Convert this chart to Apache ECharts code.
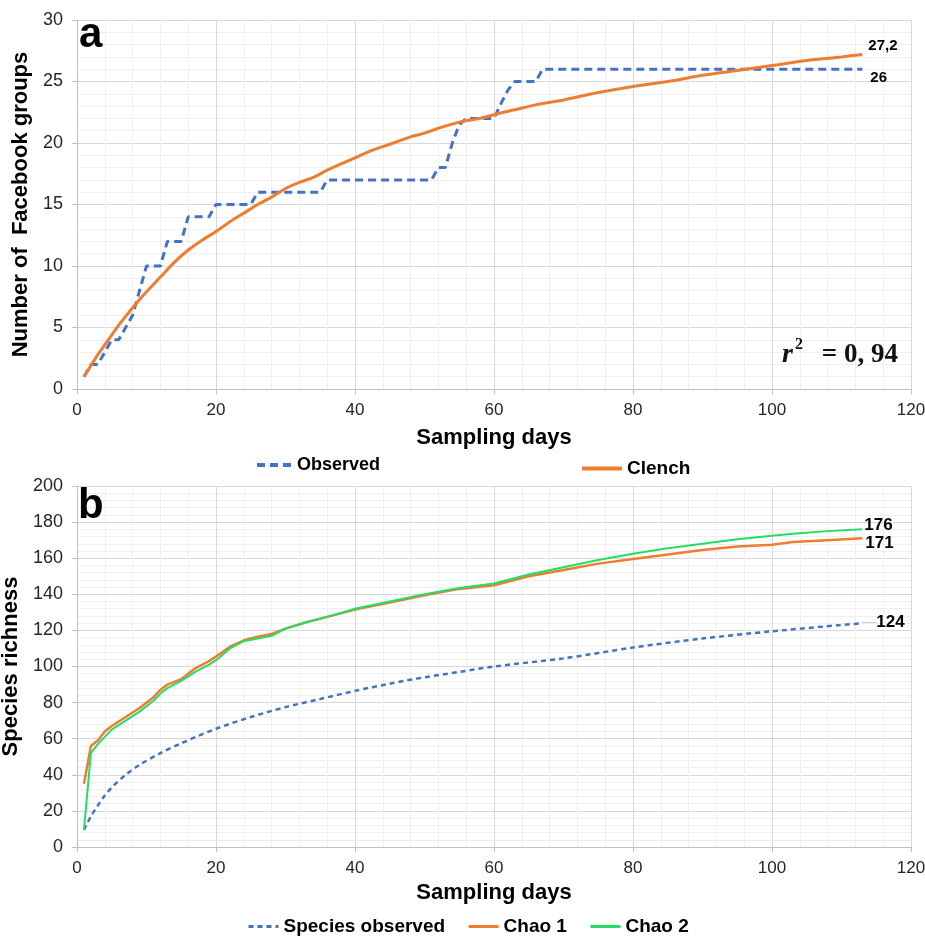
<!DOCTYPE html>
<html>
<head>
<meta charset="utf-8">
<script src="https://cdn.jsdelivr.net/npm/echarts@6/dist/echarts.min.js"></script>
<style>html,body{margin:0;padding:0;background:#fff;}#c{width:925px;height:936px;}</style>
</head>
<body>
<div id="c"></div>
<script>
// ---- Panel a data ----
const obsDays = [1,2,3,4,5,6,7,8,9,10,12,13,15,16,19,20,25,26,35,36,51,52,53,54,55,56,60,61,62,63,66,67,113];
const obsVals = [1,2,2,3,4,4,5,6,8,10,10,12,12,14,14,15,15,16,16,17,17,18,18,20,21.5,22,22,23.2,24.3,25,25,26,26];
const clenchDays = [1,2,3,4,5,6,7,8,10,12,14,16,18,20,22,24,26,28,30,32,34,36,38,40,42,44,46,48,50,52,55,58,60,63,66,70,75,80,85,90,95,100,105,110,113];
const clenchVals = [1,1.9,2.8,3.6,4.4,5.2,5.9,6.6,7.9,9.1,10.3,11.3,12.1,12.8,13.6,14.3,15.0,15.6,16.3,16.8,17.2,17.8,18.3,18.8,19.3,19.7,20.1,20.5,20.8,21.2,21.7,22.0,22.3,22.7,23.1,23.5,24.1,24.6,25.0,25.5,25.9,26.3,26.7,27.0,27.2];

// ---- Panel b data ----
const chaoDays = [1,2,3,4,5,7,9,11,12,13,15,17,19,20,22,24,26,28,30,33,36,40,45,50,55,60,65,70,75,80,85,90,95,100,103,108,113];
const chao1Vals = [35,56,59,64,67,72,77,83,87,90,93,99,103,105.5,111,114.5,116.5,118,121,124.5,127.5,131.5,135.5,139.5,143,145,150,153.5,157,159.5,162,164.5,166.5,167.5,169,170,171];
const chao2Vals = [9.5,52,57,61,65,70,75,81,85,88,92,97,101,103.5,110,114,115.5,117,121,124.5,127.5,132,136,140,143.5,146,151,155,159,162.5,165.5,168,170.5,172.5,173.5,175,176];
const sobsDays = [1,2,3,4,5,7,9,12,15,20,25,30,35,40,45,50,55,60,70,80,90,100,113];
const sobsVals = [9.5,17,23,28.5,33,40,45.5,52,57.5,65.5,72,77.5,82,86.5,90.5,94,97,100,104.5,110.5,115.5,119.5,124];

// axis ranges
const xRange = {min:0, max:120, interval:20};
const yRangeA = {min:0, max:30, interval:5};
const yRangeB = {min:0, max:200, interval:20};

const zip = (a,b) => a.map((d,i)=>[d,b[i]]);
const fmt = v => String(v).replace('.', ',');
const lastOf = a => a[a.length-1];

const FONT = 'Liberation Sans, Arial, sans-serif';
const SERIF = 'Liberation Serif, DejaVu Serif, serif';
const C_BLUE = '#4472C4', C_ORANGE = '#ED7D31', C_GREEN = '#22DD66';

function mkX(i, gap){
  return {type:'value', gridIndex:i, min:xRange.min, max:xRange.max, interval:xRange.interval,
    name:'Sampling days', nameLocation:'middle', nameGap:gap,
    nameTextStyle:{fontSize:22, fontWeight:'bold', color:'#000', fontFamily:FONT},
    axisLine:{show:true, onZero:false, lineStyle:{color:'#bfbfbf', width:1}},
    axisTick:{show:true, length:5, lineStyle:{color:'#bfbfbf'}},
    axisLabel:{fontSize:17, color:'#262626', margin:13, fontFamily:FONT},
    splitLine:{show:true, lineStyle:{color:'#d9d9d9'}},
    minorTick:{show:false, splitNumber:5},
    minorSplitLine:{show:true, lineStyle:{color:'#efefef'}}};
}
function mkY(i, r, name, gap){
  return {type:'value', gridIndex:i, min:r.min, max:r.max, interval:r.interval,
    name:name, nameLocation:'middle', nameGap:gap,
    nameTextStyle:{fontSize:22, fontWeight:'bold', color:'#000', fontFamily:FONT},
    axisLine:{show:true, onZero:false, lineStyle:{color:'#bfbfbf', width:1}},
    axisTick:{show:true, length:5, lineStyle:{color:'#bfbfbf'}},
    axisLabel:{fontSize:18, color:'#262626', margin:14, fontFamily:FONT},
    splitLine:{show:true, lineStyle:{color:'#d9d9d9'}},
    minorTick:{show:false, splitNumber:5},
    minorSplitLine:{show:true, lineStyle:{color:'#efefef'}}};
}
const lblStyle = (size) => ({fontSize:size, fontWeight:'bold', color:'#000', fontFamily:FONT});
const legendCommon = {itemHeight:14, itemStyle:{opacity:0}, textStyle:lblStyle(19)};

const option = {
  animation:false,
  backgroundColor:'#fff',
  textStyle:{fontFamily:FONT},
  grid:[
    {left:77, right:14, top:20, bottom:547, containLabel:false, outerBoundsMode:'none'},
    {left:77, right:14, top:486, bottom:89, containLabel:false, outerBoundsMode:'none'}
  ],
  xAxis:[mkX(0,38), mkX(1,35)],
  yAxis:[mkY(0, yRangeA, 'Number of  Facebook groups', 42), mkY(1, yRangeB, 'Species richness', 51)],
  legend:[
    {...legendCommon, data:['Observed'], left:250, top:451, itemWidth:35, lineStyle:{width:4}, textStyle:lblStyle(18)},
    {...legendCommon, data:['Clench'], left:575, top:454, itemWidth:40, lineStyle:{width:4}},
    {...legendCommon, data:['Species observed','Chao 1','Chao 2'], left:242, top:912, itemWidth:30, itemGap:22, lineStyle:{width:3}}
  ],
  series:[
    {name:'Observed', type:'line', xAxisIndex:0, yAxisIndex:0, data:zip(obsDays, obsVals), symbol:'none',
      lineStyle:{color:C_BLUE, width:3, type:[8,5]}, itemStyle:{color:C_BLUE}, z:3,
      endLabel:{show:true, formatter:()=>fmt(lastOf(obsVals)), offset:[2,9], distance:6, ...lblStyle(15)}},
    {name:'Clench', type:'line', xAxisIndex:0, yAxisIndex:0, data:zip(clenchDays, clenchVals), symbol:'none', smooth:0.3,
      lineStyle:{color:C_ORANGE, width:3}, itemStyle:{color:C_ORANGE}, z:4,
      endLabel:{show:true, formatter:()=>fmt(lastOf(clenchVals)), offset:[0,-9], distance:6, ...lblStyle(15)}},
    {name:'Species observed', type:'line', xAxisIndex:1, yAxisIndex:1, data:zip(sobsDays, sobsVals), symbol:'none', smooth:0.3,
      lineStyle:{color:C_BLUE, width:2.5, type:[5,4]}, itemStyle:{color:C_BLUE},
      endLabel:{show:true, distance:0, offset:[0,-1],
        formatter:()=>'{l|——}{v|'+fmt(lastOf(sobsVals))+'}',
        rich:{l:{fontSize:7, color:'#999999', fontFamily:FONT}, v:{...lblStyle(17)}}}},
    {name:'Chao 1', type:'line', xAxisIndex:1, yAxisIndex:1, data:zip(chaoDays, chao1Vals), symbol:'none',
      lineStyle:{color:C_ORANGE, width:2.5}, itemStyle:{color:C_ORANGE}, z:3,
      endLabel:{show:true, formatter:()=>fmt(lastOf(chao1Vals)), offset:[0,5], distance:3, ...lblStyle(17)}},
    {name:'Chao 2', type:'line', xAxisIndex:1, yAxisIndex:1, data:zip(chaoDays, chao2Vals), symbol:'none',
      lineStyle:{color:C_GREEN, width:2}, itemStyle:{color:C_GREEN}, z:4,
      endLabel:{show:true, formatter:()=>fmt(lastOf(chao2Vals)), offset:[0,-4], distance:2, ...lblStyle(17)}}
  ],
  graphic:[
    {type:'text', left:79, top:14, z:10, style:{text:'a', fontSize:42, fontWeight:'bold', fill:'#000', fontFamily:FONT}},
    {type:'text', left:78, top:485, z:10, style:{text:'b', fontSize:42, fontWeight:'bold', fill:'#000', fontFamily:FONT}},
    {type:'text', left:782, top:341, z:10, style:{text:'r', fontSize:28, fontWeight:'bold', fontStyle:'italic', fill:'#111', fontFamily:SERIF}},
    {type:'text', left:795, top:337, z:10, style:{text:'2', fontSize:16, fontWeight:'bold', fill:'#111', fontFamily:SERIF}},
    {type:'text', right:27, top:342, z:10, style:{text:'= 0, 94', fontSize:27, fontWeight:'bold', fill:'#111', fontFamily:SERIF}}
  ]
};
const chart = echarts.init(document.getElementById('c'), null, {renderer:'canvas'});
chart.setOption(option);
</script>
</body>
</html>
